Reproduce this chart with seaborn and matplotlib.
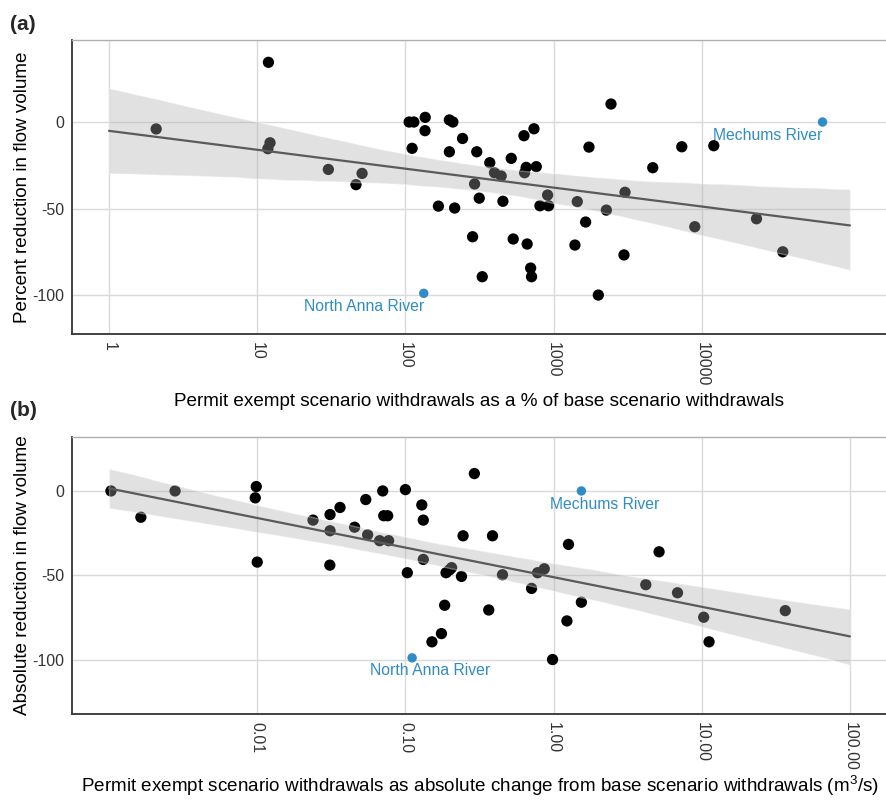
import numpy as np
import pandas as pd
import seaborn as sns
import matplotlib.pyplot as plt

# (a) permit exempt withdrawals as % of base scenario
pct_x = [2.08, 11.9, 12.2, 11.8, 30.2, 51, 46.4, 106, 114, 136, 135.6, 111, 167,
         198, 209, 198, 243, 303, 371, 518, 631, 737, 653, 764, 399, 443, 637,
         293, 315, 455, 215, 809, 925, 911, 1445, 2270, 3034, 284, 534, 663,
         700, 710, 330, 1393, 1645, 1733, 2440, 2004, 2986, 4670, 7330, 12050,
         8970, 23400, 35200]
pct_y = [-4, 34.5, -12, -15.4, -27.4, -29.7, -36.2, 0, 0, 2.7, -5, -15.2, -48.6,
         1.2, 0, -17.2, -9.5, -17.2, -23.5, -21, -7.9, -3.9, -26.2, -25.8, -29.3, -31.2, -29.3,
         -35.8, -44, -45.8, -49.7, -48.4, -48.4, -42.2, -46, -50.9, -40.6, -66.3, -67.6, -70.5,
         -84.4, -89.4, -89.4, -71.1, -57.8, -14.5, 10.4, -100, -76.8, -26.4, -14.3, -13.7,
         -60.5, -55.9, -75]

# (b) permit exempt withdrawals as absolute change (m3/s)
abs_x = [0.00103, 0.00164, 0.00279, 0.00985, 0.0097, 0.01, 0.0238, 0.031, 0.0362,
         0.031, 0.0309, 0.0454, 0.054, 0.0556, 0.0703, 0.0714, 0.0759, 0.067, 0.077,
         0.100, 0.103, 0.129, 0.132, 0.132, 0.151, 0.175, 0.184, 0.188, 0.198, 0.205,
         0.239, 0.245, 0.292, 0.365, 0.387, 0.452, 0.71, 0.78, 0.865, 0.984, 1.23,
         1.26, 1.54, 4.19, 5.15, 6.86, 10.3, 11.2, 36.6]
abs_y = [0, -15.6, 0, 2.6, -4.1, -42.2, -17.3, -14, -9.8,
         -23.6, -44, -21.5, -5.1, -26, 0, -14.7, -14.7, -29.5, -29.5,
         0.8, -48.5, -8.3, -17.3, -40.6, -89.5, -84.6, -67.8, -48.5, -46.9, -45.5,
         -50.7, -26.6, 10.3, -70.6, -26.6, -49.7, -57.8, -48.5, -46.2, -100, -77.1,
         -31.7, -66, -55.6, -36.1, -60.4, -74.9, -89.5, -71]

# highlighted rivers
rivers = ["North Anna River", "Mechums River"]
rivers_pct_x = [133, 65300]
rivers_pct_y = [-99, 0]
rivers_abs_x = [0.111, 1.54]
rivers_abs_y = [-99, 0]

BLUE = "#2f8cc4"

sns.set_theme(style="whitegrid")
plt.rcParams['font.family'] = ['Liberation Sans', 'DejaVu Sans']
plt.rcParams['mathtext.fontset'] = 'custom'
plt.rcParams['mathtext.rm'] = 'Liberation Sans'

fig = plt.figure(figsize=(8.87, 8.01), dpi=100)
ax_a = fig.add_axes([72 / 887, (801 - 334) / 801, 815 / 887, 294 / 801])
ax_b = fig.add_axes([72 / 887, (801 - 714) / 801, 815 / 887, 277 / 801])


def panel(ax, x, y, rx, ry, fit_range, ylim, ticks, ticklabels, xlabel, ylabel, offsets):
    df = pd.DataFrame({'lx': np.log10(x), 'y': y})
    rdf = pd.DataFrame({'lx': np.log10(rx), 'y': ry, 'name': rivers})
    alldf = pd.concat([df, rdf[['lx', 'y']]], ignore_index=True)

    # fit drawn over the full break range, like fullrange in ggplot
    ax.set_xlim(*fit_range)
    sns.regplot(data=alldf, x='lx', y='y', scatter=False, truncate=False, ax=ax,
                color='#5a5a5a', line_kws=dict(lw=1.6), seed=3)
    band = ax.collections[-1]
    band.set_facecolor('#aaaaaa')
    band.set_alpha(0.35)

    sns.scatterplot(data=df, x='lx', y='y', color='black', s=66, edgecolor='none',
                    zorder=0.8, ax=ax)
    sns.scatterplot(data=rdf, x='lx', y='y', color=BLUE, s=46, edgecolor='none',
                    zorder=3, ax=ax)
    for (name, lx, yy), (dx, dy, ha) in zip(rdf[['name', 'lx', 'y']].values, offsets):
        ax.annotate(name, xy=(lx, yy), xytext=(dx, dy), textcoords='offset points',
                    ha=ha, va='center', color=BLUE, fontsize=11.3)

    pad = (fit_range[1] - fit_range[0]) * 0.05
    ax.set_xlim(fit_range[0] - pad, fit_range[1] + pad)
    ax.set_ylim(*ylim)
    ax.set_xticks(ticks)
    ax.set_xticklabels(ticklabels, rotation=-90, va='top', ha='center')
    ax.set_yticks([-100, -50, 0])
    ax.set_yticklabels(['-100', '-50', '0'])
    ax.tick_params(axis='both', length=3.5, width=0.9, color='#333333',
                   labelsize=11.5, labelcolor='#333333', pad=2)
    ax.grid(True, color='#dadada', lw=1.0)
    ax.set_axisbelow(True)
    for side in ['left', 'bottom']:
        ax.spines[side].set_color('#333333')
        ax.spines[side].set_linewidth(1.3)
    for side in ['top', 'right']:
        ax.spines[side].set_color('#b0b0b0')
        ax.spines[side].set_linewidth(1.0)
    ax.set_xlabel(xlabel, fontsize=13.6, color='black')
    ax.set_ylabel(ylabel, fontsize=13.6, color='black')


panel(ax_a, pct_x, pct_y, rivers_pct_x, rivers_pct_y, (0, 5), (-122.5, 47.4),
      [0, 1, 2, 3, 4], ['1', '10', '100', '1000', '10000'],
      "Permit exempt scenario withdrawals as a % of base scenario withdrawals",
      "Percent reduction in flow volume",
      [(0, -9.4, 'right'), (0, -9.4, 'right')])
panel(ax_b, abs_x, abs_y, rivers_abs_x, rivers_abs_y, (-3, 2), (-132.3, 32),
      [-2, -1, 0, 1, 2], ['0.01', '0.10', '1.00', '10.00', '100.00'],
      "Permit exempt scenario withdrawals as absolute change from base scenario withdrawals (m$^3$/s)",
      "Absolute reduction in flow volume",
      [(13, -9.4, 'center'), (16.5, -9.4, 'center')])

ax_a.xaxis.set_label_coords(0.5, -0.2)
ax_b.xaxis.set_label_coords(0.5, -0.215)
ax_a.yaxis.set_label_coords(-0.05, 0.5)
ax_b.yaxis.set_label_coords(-0.05, 0.5)

fig.text(10 / 887, 1 - 25 / 801, '(a)', fontweight='bold', fontsize=15, va='center')
fig.text(10 / 887, 1 - 410 / 801, '(b)', fontweight='bold', fontsize=15, va='center')

fig.savefig('out.png', dpi=100)
